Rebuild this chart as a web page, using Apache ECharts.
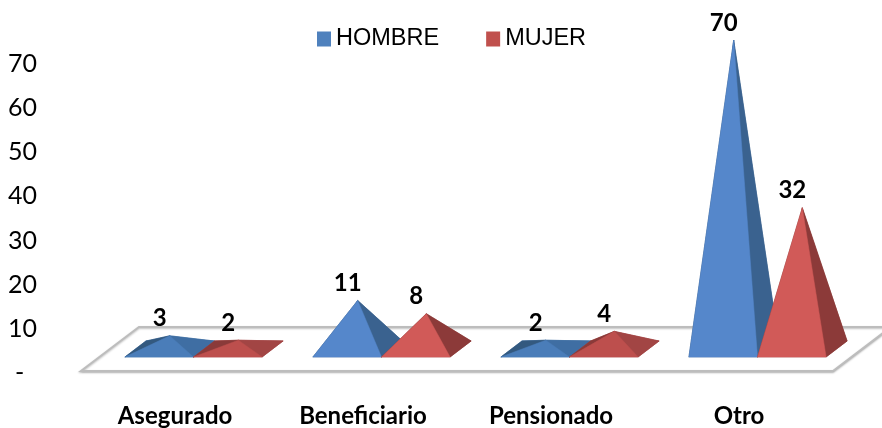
<!DOCTYPE html>
<html>
<head>
<meta charset="utf-8">
<style>
  html, body { margin: 0; padding: 0; background: #fff; }
  #chart { width: 882px; height: 428px; }
</style>
<script src="https://cdn.jsdelivr.net/npm/echarts@6/dist/echarts.min.js"></script>
</head>
<body>
<div id="chart"></div>
<script>
var categories = ['Asegurado', 'Beneficiario', 'Pensionado', 'Otro'];
var hombre = [3, 11, 2, 70];
var mujer = [2, 8, 4, 32];
var yTicks = [0, 10, 20, 30, 40, 50, 60, 70];

// depth of the floor and of a pyramid base, in pixels (half values)
var floorDx = 29, floorDy = 22;
var baseDx = 10.5, baseDy = 8;
var barRatio = 0.365;

var chart = echarts.init(document.getElementById('chart'), null, { renderer: 'canvas' });

function poly(points, fill) {
    return {
        type: 'polygon',
        shape: { points: points },
        style: { fill: fill, stroke: fill, lineWidth: 0.5 }
    };
}

function renderFloor(params, api) {
    var cs = params.coordSys;
    var x0 = cs.x, x1 = cs.x + cs.width, y = cs.y + cs.height;
    return {
        type: 'polygon',
        shape: {
            points: [
                [x0, y],
                [x1, y],
                [x1 + floorDx * 2, y - floorDy * 2],
                [x0 + floorDx * 2, y - floorDy * 2]
            ]
        },
        style: {
            fill: '#fff',
            stroke: '#bdbdbd',
            lineWidth: 2,
            shadowColor: 'rgba(0,0,0,0.25)',
            shadowBlur: 2,
            shadowOffsetY: 1
        }
    };
}

function pyramid(side, colors) {
    return function (params, api) {
        var value = api.value(1);
        var base = api.coord([api.value(0), 0]);
        var top = api.coord([api.value(0), value]);
        var w = api.size([1, 0])[0] * barRatio;
        var cx = base[0] + floorDx + side * w / 2;
        var cy = base[1] - floorDy;
        var fl = [cx - w / 2 - baseDx, cy + baseDy];
        var fr = [cx + w / 2 - baseDx, cy + baseDy];
        var br = [cx + w / 2 + baseDx, cy - baseDy];
        var bl = [cx - w / 2 + baseDx, cy - baseDy];
        var apex = [cx, top[1] - floorDy];
        // flat pyramids catch less light in the original
        var shade = value < 5 ? colors.low : colors;
        return {
            type: 'group',
            children: [
                poly([fl, fr, br, bl], shade.side),
                poly([bl, br, apex], shade.side),
                poly([fl, bl, apex], shade.dark),
                poly([fr, br, apex], shade.side),
                poly([fl, fr, apex], shade.front),
                {
                    type: 'text',
                    style: {
                        x: apex[0] - 10,
                        y: apex[1] - 17,
                        text: String(value),
                        fill: '#000',
                        font: 'bold 24px Lato',
                        align: 'center',
                        verticalAlign: 'middle'
                    }
                }
            ]
        };
    };
}

var blue = {
    front: '#5587cb', side: '#3a628f', dark: '#2f5279',
    low: { front: '#4a7db9', side: '#3f6ea3', dark: '#33597f' }
};
var red = {
    front: '#d15a58', side: '#8c3a39', dark: '#7a3231',
    low: { front: '#bd4f4d', side: '#a24544', dark: '#8a3a39' }
};

function seriesData(values) {
    return values.map(function (v, i) { return [i, v]; });
}

chart.setOption({
    animation: false,
    backgroundColor: '#fff',
    grid: { left: 81, right: 49, top: 62, bottom: 57 },
    legend: {
        data: ['HOMBRE', 'MUJER'],
        left: 312,
        top: 22,
        icon: 'rect',
        itemWidth: 14,
        itemHeight: 15,
        itemGap: 47,
        textStyle: { fontFamily: 'Liberation Sans', fontSize: 23.5, color: '#000' }
    },
    xAxis: {
        type: 'category',
        data: categories,
        axisLine: { show: false },
        axisTick: { show: false },
        axisLabel: {
            margin: 33,
            interval: 0,
            fontFamily: 'Lato',
            fontWeight: 'bold',
            fontSize: 24,
            color: '#000'
        }
    },
    yAxis: {
        type: 'value',
        min: yTicks[0],
        max: yTicks[yTicks.length - 1],
        interval: 10,
        axisLine: { show: false },
        axisTick: { show: false },
        splitLine: { show: false },
        axisLabel: {
            margin: 44,
            formatter: function (v) { return '{t|' + (v === 0 ? '-  ' : v) + '}'; },
            rich: {
                t: {
                    padding: [4, 0, 0, 0],
                    fontFamily: 'Lato',
                    fontSize: 25,
                    color: '#000'
                }
            }
        }
    },
    series: [
        {
            name: 'floor',
            type: 'custom',
            renderItem: renderFloor,
            data: [[0, 0]],
            encode: { x: 0, y: 1 },
            z: 1,
            silent: true
        },
        {
            name: 'HOMBRE',
            type: 'custom',
            renderItem: pyramid(-1, blue),
            data: seriesData(hombre),
            encode: { x: 0, y: 1 },
            itemStyle: { color: '#4f81bd' },
            z: 2
        },
        {
            name: 'MUJER',
            type: 'custom',
            renderItem: pyramid(1, red),
            data: seriesData(mujer),
            encode: { x: 0, y: 1 },
            itemStyle: { color: '#c0504d' },
            z: 3
        }
    ]
});
</script>
</body>
</html>
